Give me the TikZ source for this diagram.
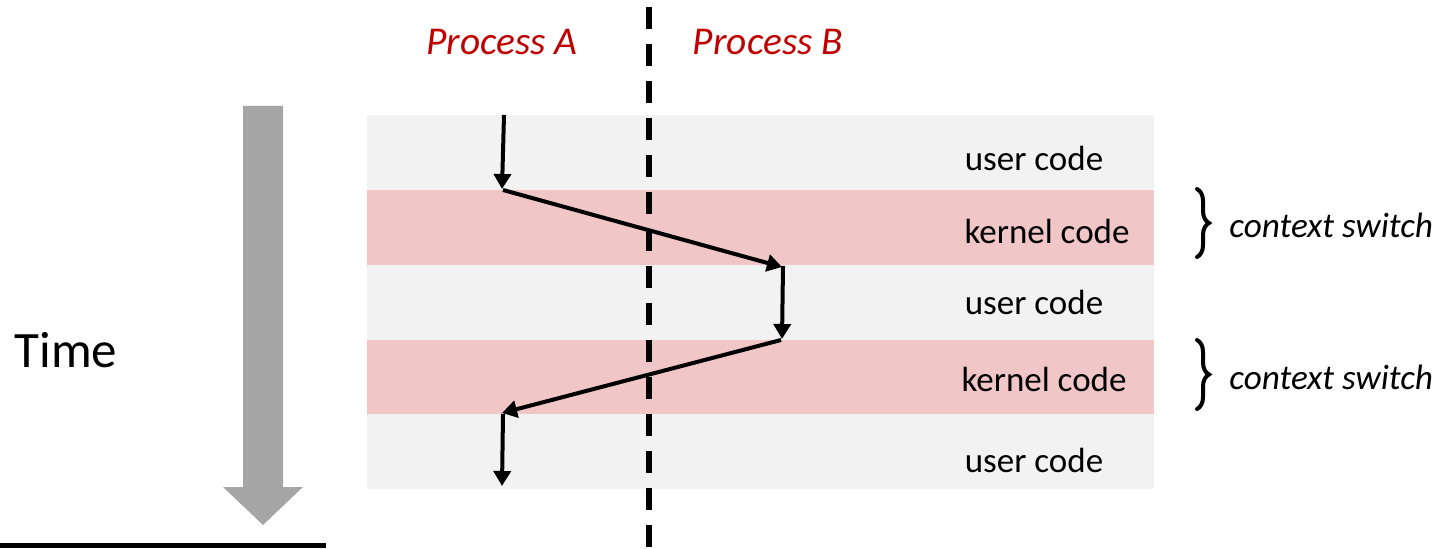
\documentclass[tikz,border=0pt]{standalone}
\usepackage{fontspec}
\setmainfont{Carlito}
\usetikzlibrary{arrows.meta,decorations.pathreplacing}
\definecolor{usergray}{HTML}{F2F2F2}
\definecolor{kernelpink}{HTML}{F1C6C6}
\definecolor{procred}{HTML}{C00000}
\definecolor{timegray}{HTML}{A6A6A6}
\tikzset{
  userband/.style={fill=usergray,draw=none},
  kernelband/.style={fill=kernelpink,draw=none},
  bandlabel/.style={font=\fontsize{17.5}{21}\selectfont,inner sep=0pt},
  proclabel/.style={font=\fontsize{19.7}{23}\selectfont\itshape,text=procred,inner sep=0pt},
  switchlabel/.style={font=\fontsize{17.6}{21}\selectfont\itshape,inner sep=0pt,anchor=west},
  flow/.style={line width=2pt,-{Triangle[length=7.5pt,width=8.5pt]}},
  switchbrace/.style={decorate,decoration={brace,amplitude=6pt},line width=2pt,line cap=round},
}
\begin{document}
\begin{tikzpicture}[x=0.5pt,y=-0.5pt]
\useasboundingbox (0,0) rectangle (1443,549);

% execution bands
\fill[userband]   (367,115) rectangle (1154,190);
\fill[kernelband] (367,190) rectangle (1154,265);
\fill[userband]   (367,265) rectangle (1154,340);
\fill[kernelband] (367,340) rectangle (1154,414);
\fill[userband]   (367,414) rectangle (1154,489);

% boundary between the two processes
\draw[line width=3pt,dash pattern=on 11pt off 7.5pt] (649,7) -- (649,549);

% band labels
\node[bandlabel] (u1) at (1034,158) {user code};
\node[bandlabel] (k1) at (1047,231) {kernel code};
\node[bandlabel] (u2) at (1034,302) {user code};
\node[bandlabel] (k2) at (1044,379) {kernel code};
\node[bandlabel] (u3) at (1034,460) {user code};

% process headings
\node[proclabel] (pa) at (502,42) {Process A};
\node[proclabel] (pb) at (768,42) {Process B};

% control flow
\coordinate (a0) at (504,115);
\coordinate (a1) at (502,189);
\coordinate (a1s) at (503,190);
\coordinate (b1) at (782,267);
\coordinate (b1s) at (783,266);
\coordinate (b2) at (782,339);
\coordinate (b2s) at (781,340);
\coordinate (a2) at (502,413);
\coordinate (a2s) at (503,414);
\coordinate (a3) at (502,486);
\draw[flow] (a0) -- (a1);
\draw[flow] (a1s) -- (b1);
\draw[flow] (b1s) -- (b2);
\draw[flow] (b2s) -- (a2);
\draw[flow] (a2s) -- (a3);

% context switch braces
\coordinate (s1t) at (1197,189);
\coordinate (s1b) at (1197,257);
\coordinate (s2t) at (1197,340);
\coordinate (s2b) at (1197,409);
\draw[switchbrace] (s1t) -- (s1b);
\draw[switchbrace] (s2t) -- (s2b);
\node[switchlabel] (cs1) at (1229,225) {context switch};
\node[switchlabel] (cs2) at (1229,377) {context switch};

% time axis
\fill[timegray] (243,106) -- (283,106) -- (283,487) -- (303,487)
  -- (263,525) -- (223,487) -- (243,487) -- cycle;
\node[font=\fontsize{25.5}{30}\selectfont,inner sep=0pt] (time) at (66,350) {Time};
\coordinate (base0) at (0,545.5);
\coordinate (base1) at (326,545.5);
\draw[line width=2.5pt] (base0) -- (base1);
\end{tikzpicture}
\end{document}
